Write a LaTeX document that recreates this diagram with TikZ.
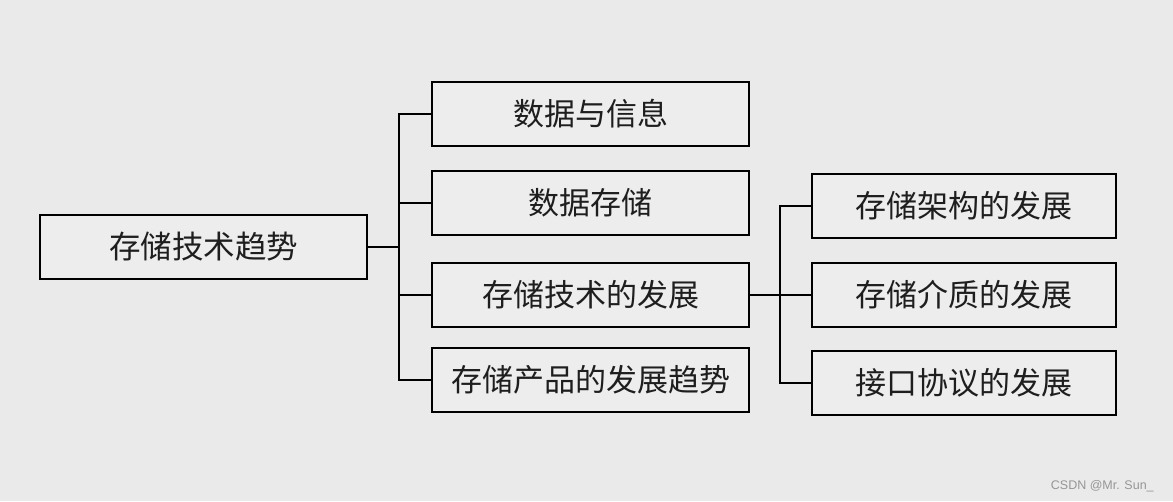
\documentclass[tikz,border=0pt]{standalone}
\usepackage{fontspec}
\usetikzlibrary{positioning}
\newfontfamily\cjk{Noto Sans CJK SC}
\setsansfont{Liberation Sans}
\definecolor{slidegray}{RGB}{234, 234, 234}
\definecolor{boxgray}{RGB}{237, 237, 237}
\definecolor{textdark}{RGB}{30, 30, 30}
\definecolor{markgray}{RGB}{150, 150, 150}

\begin{document}
\begin{tikzpicture}[x=1pt, y=-1pt, line width=2pt,
        root node/.style={rectangle, draw=black, fill=boxgray, font=\cjk\fontsize{31.5}{36}\selectfont, text=textdark, minimum width=327pt, minimum height=64pt, inner sep=0pt},
        mid node/.style={rectangle, draw=black, fill=boxgray, font=\cjk\fontsize{31}{36}\selectfont, text=textdark, minimum width=317pt, minimum height=64pt, inner sep=0pt},
        leaf node/.style={rectangle, draw=black, fill=boxgray, font=\cjk\fontsize{31}{36}\selectfont, text=textdark, minimum width=304pt, minimum height=64pt, inner sep=0pt}]

    \fill[slidegray] (0, 0) rectangle (1173, 501);

    \node[root node] (root) at (203.5, 247) {存储技术趋势};

    \node[mid node] (data) at (590.5, 114) {数据与信息};
    \node[mid node] (store) at (590.5, 203) {数据存储};
    \node[mid node] (tech) at (590.5, 295) {存储技术的发展};
    \node[mid node] (product) at (590.5, 380) {存储产品的发展趋势};

    \node[leaf node] (arch) at (964, 206) {存储架构的发展};
    \node[leaf node] (media) at (964, 295) {存储介质的发展};
    \node[leaf node] (iface) at (964, 383) {接口协议的发展};

    \coordinate (rootjoin) at (399, 247);
    \coordinate (techjoin) at (780, 295);

    % Branches from the root
    \draw (root.east) -- (rootjoin);
    \draw (rootjoin) |- (data.west);
    \draw (rootjoin) |- (store.west);
    \draw (rootjoin) |- (tech.west);
    \draw (rootjoin) |- (product.west);

    % Branches from the technology box
    \draw (tech.east) -- (techjoin);
    \draw (techjoin) |- (arch.west);
    \draw (techjoin) |- (media.west);
    \draw (techjoin) |- (iface.west);

    \node[font=\sffamily\fontsize{12.5}{14}\selectfont, text=markgray, anchor=east] (mark) at (1158, 486) {CSDN @Mr. Sun\_};

\end{tikzpicture}
\end{document}
